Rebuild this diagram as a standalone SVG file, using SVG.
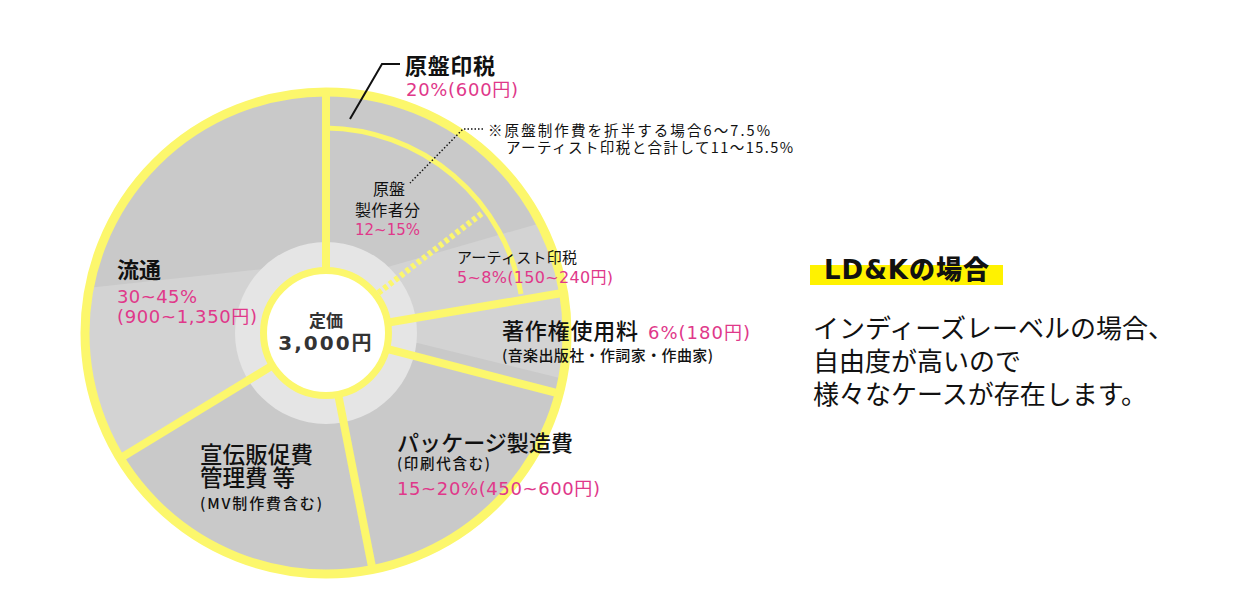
<svg xmlns="http://www.w3.org/2000/svg" width="1250" height="606" viewBox="0 0 1250 606">
<defs>
<clipPath id="disc"><circle cx="326" cy="333" r="241"/></clipPath>
<style>
text{font-family:"Noto Sans CJK JP","Noto Sans",sans-serif;fill:#111}
.pk{fill:#e0388a;font-family:"DejaVu Sans","Noto Sans CJK JP",sans-serif}
.b{font-weight:bold}
.m{font-weight:500}
.ylw{stroke:#fcf76c;fill:none}
.div{stroke:#fcf76c;stroke-width:8;stroke-linecap:butt}
</style>
</defs>
<rect width="1250" height="606" fill="#ffffff"/>

<g id="pie-base">
<circle cx="326" cy="333" r="241" fill="#c9c9c9"/>
<g clip-path="url(#disc)" fill="#d3d3d3">
<polygon points="259,304 600,206 600,388"/>
<polygon points="60,291 300,265 326,333 71,488"/>
</g>
<circle cx="326" cy="333" r="91" fill="#e5e5e5"/>
</g>

<g id="dividers">
<line class="div" x1="326" y1="271" x2="326" y2="92"/>
<line class="div" x1="387" y1="322.7" x2="563.6" y2="292.8"/>
<line class="div" x1="386" y1="348.6" x2="559.3" y2="393.6"/>
<line class="div" x1="338" y1="393.8" x2="372.5" y2="569.5"/>
<line class="div" x1="273" y1="365.2" x2="120.1" y2="458.3"/>
<path class="ylw" stroke-width="5" d="M326,128 A200,200 0 0 1 521,294"/>
<line stroke="#fcf76c" stroke-width="6" stroke-dasharray="4 3" x1="378.4" y1="292.8" x2="482.3" y2="213.1"/>
<circle class="ylw" cx="326" cy="333" r="241" stroke-width="9"/>
<circle cx="326" cy="333" r="62.5" fill="#ffffff" stroke="#fcf76c" stroke-width="7"/>
</g>

<g id="connectors" fill="none" stroke="#111">
<polyline points="400,64 382,64 350,119" stroke-width="2"/>
<polyline points="483,129 463,129 410,183" stroke-width="1.5" stroke-dasharray="1.5 2"/>
</g>

<g id="node-center">
<text x="326" y="327" font-size="17" class="b" text-anchor="middle" style="fill:#333">定価</text>
<text x="326" y="350" font-size="20" class="b" text-anchor="middle" style="fill:#333;font-family:'DejaVu Sans','Noto Sans CJK JP',sans-serif" letter-spacing="2">3,000円</text>
</g>

<g id="node-genban-inzei">
<text x="405" y="74" font-size="22" class="b" textLength="90">原盤印税</text>
<text x="406" y="96" font-size="18" class="pk" textLength="112" lengthAdjust="spacing">20%(600円)</text>
</g>

<g id="node-note">
<text x="488" y="136" font-size="14.5" textLength="282" lengthAdjust="spacing">※原盤制作費を折半する場合6〜7.5%</text>
<text x="506" y="153" font-size="14.5" textLength="287" lengthAdjust="spacing">アーティスト印税と合計して11〜15.5%</text>
</g>

<g id="node-seisakusha">
<text x="389" y="195" font-size="16" text-anchor="middle">原盤</text>
<text x="355" y="216" font-size="16" textLength="65">製作者分</text>
<text x="355" y="235" font-size="16" class="pk" textLength="65" lengthAdjust="spacingAndGlyphs">12~15%</text>
</g>

<g id="node-artist">
<text x="457" y="263" font-size="15" textLength="120">アーティスト印税</text>
<text x="457" y="283" font-size="16" class="pk" textLength="156" lengthAdjust="spacing">5~8%(150~240円)</text>
</g>

<g id="node-chosakuken">
<text x="502" y="339" font-size="22" class="m" textLength="136">著作権使用料</text>
<text x="648" y="339" font-size="18" class="pk" textLength="102" lengthAdjust="spacing">6%(180円)</text>
<text x="502" y="361" font-size="15" class="m" textLength="211">(音楽出版社・作詞家・作曲家)</text>
</g>

<g id="node-package">
<text x="397" y="451" font-size="22" class="m" textLength="176">パッケージ製造費</text>
<text x="397" y="469" font-size="14.5" class="m" textLength="93">(印刷代含む)</text>
<text x="397" y="495" font-size="18" class="pk" textLength="203" lengthAdjust="spacing">15~20%(450~600円)</text>
</g>

<g id="node-senden">
<text x="200" y="463" font-size="22.5" class="m" textLength="113">宣伝販促費</text>
<text x="200" y="486" font-size="22.5" class="m">管理費 等</text>
<text x="200" y="509" font-size="15" class="m" textLength="122">(MV制作費含む)</text>
</g>

<g id="node-ryutsu">
<text x="117" y="278" font-size="22" class="b">流通</text>
<text x="117" y="303" font-size="18" class="pk" textLength="80" lengthAdjust="spacing">30~45%</text>
<text x="117" y="323" font-size="18" class="pk" textLength="140" lengthAdjust="spacing">(900~1,350円)</text>
</g>

<g id="node-ldk">
<rect x="810" y="265" width="193" height="20" fill="#fff200"/>
<text x="824" y="279" font-size="26" style="font-weight:900" letter-spacing="1"><tspan style="font-family:'DejaVu Sans','Noto Sans CJK JP',sans-serif;font-weight:bold">LD&amp;K</tspan>の場合</text>
<text x="813" y="338" font-size="26">インディーズレーベルの場合、</text>
<text x="813" y="371" font-size="26">自由度が高いので</text>
<text x="813" y="404" font-size="26">様々なケースが存在します。</text>
</g>
</svg>
